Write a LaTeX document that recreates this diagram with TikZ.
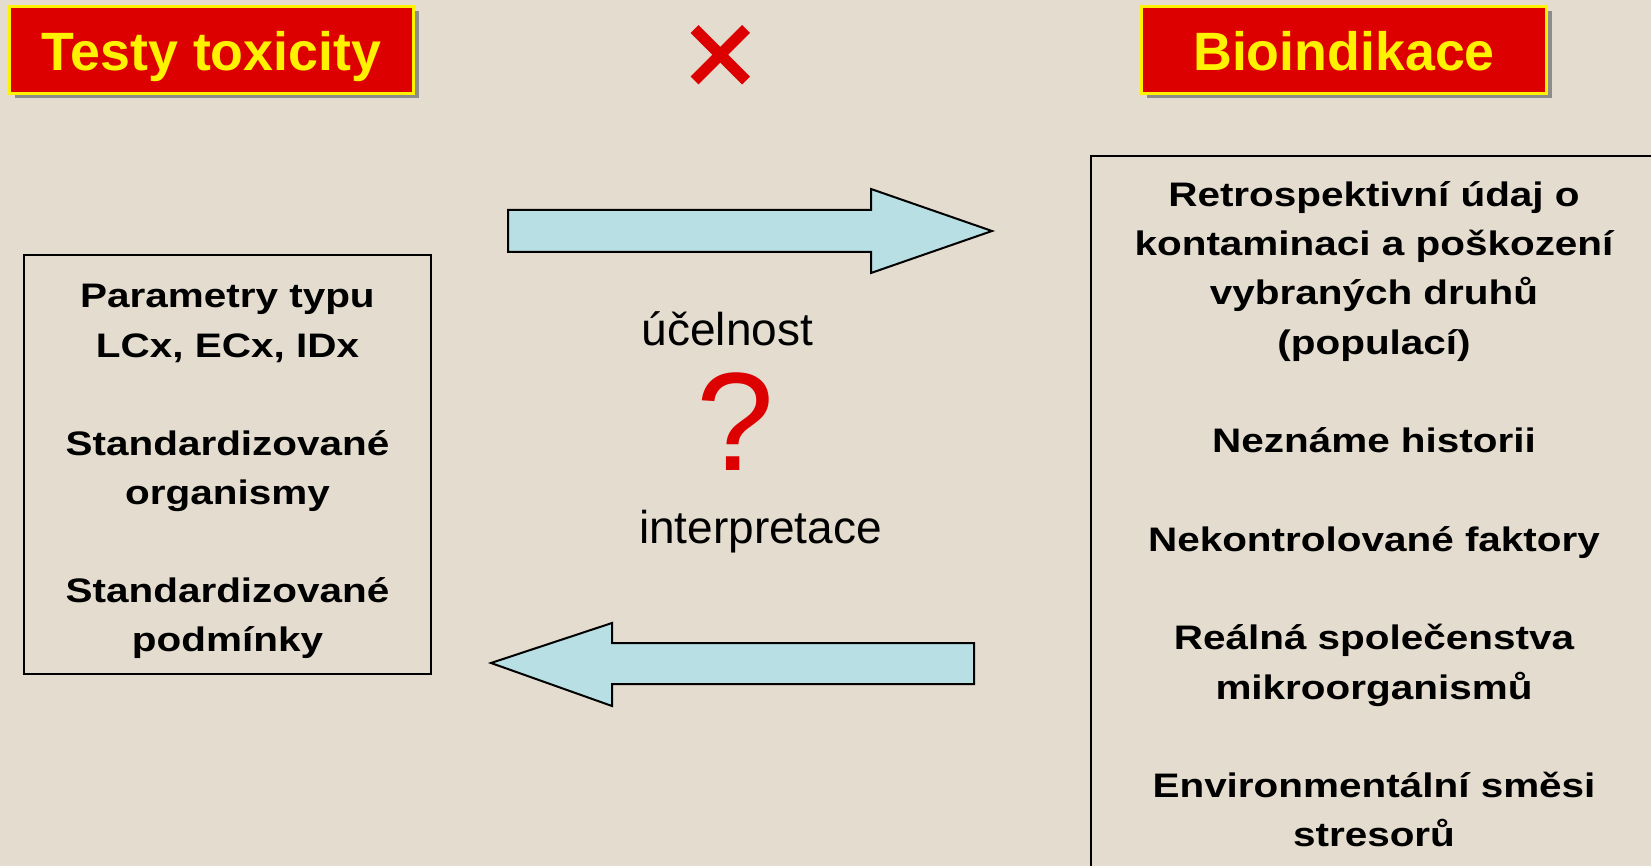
\documentclass[tikz,border=0pt]{standalone}
\usepackage{fontspec}
\setmainfont{Liberation Sans}
\newfontfamily\bodyfont[FakeStretch=1.19]{Liberation Sans}
\newfontfamily\titlefont[FakeStretch=0.995]{Liberation Sans}
\usetikzlibrary{shadows}
\definecolor{bg}{RGB}{227,220,207}
\definecolor{slidered}{RGB}{221,0,0}
\definecolor{arrowblue}{RGB}{184,224,228}
\definecolor{shadowgray}{RGB}{140,140,140}
\begin{document}
\begin{tikzpicture}[x=1pt,y=-1pt,
  titlebox/.style={rectangle, fill=slidered, draw=yellow, line width=3pt, inner sep=0,
    drop shadow={shadow xshift=5pt, shadow yshift=-5pt, fill=shadowgray, opacity=1}},
  titletext/.style={anchor=base, inner sep=0, text=yellow, font=\titlefont\bfseries\fontsize{54}{60}\selectfont},
  bodytext/.style={anchor=base, inner sep=0, font=\bodyfont\bfseries\fontsize{34}{40}\selectfont},
  midtext/.style={anchor=base, inner sep=0, font=\fontsize{46}{52}\selectfont},
  infobox/.style={rectangle, draw=black, line width=2pt, inner sep=0},
  bigarrow/.style={fill=arrowblue, draw=black, line width=2pt, line join=miter},
]
\useasboundingbox (0,0) rectangle (1651,866);
\fill[bg] (0,0) rectangle (1651,866);

% title boxes
\node[titlebox, minimum width=404pt, minimum height=87pt] (tbox) at (211.5,50) {};
\node[titletext] (ttext) at (211.5,71) {Testy toxicity};
\node[titlebox, minimum width=405pt, minimum height=87pt] (bbox) at (1344,50) {};
\node[titletext] (btext) at (1344,71) {Bioindikace};

% red cross
\draw[slidered, line width=11pt] (694.5,29) -- (746,80.5);
\draw[slidered, line width=11pt] (746,29) -- (694.5,80.5);

% left box
\node[infobox, minimum width=407pt, minimum height=419pt] (lbox) at (227.5,464.5) {};
\node[bodytext] (l1) at (227.5,308) {Parametry typu};
\node[bodytext] (l2) at (227.5,357) {LCx, ECx, IDx};
\node[bodytext] (l3) at (227.5,455) {Standardizované};
\node[bodytext] (l4) at (227.5,504) {organismy};
\node[bodytext] (l5) at (227.5,602) {Standardizované};
\node[bodytext] (l6) at (227.5,651) {podmínky};

% right box (runs past the edges)
\coordinate (rtr) at (1651,156);
\coordinate (rtl) at (1091,156);
\coordinate (rbl) at (1091,866);
\draw[black, line width=2.5pt] (rtr) -- (rtl) -- (rbl);
\node[bodytext] (r1) at (1374,206.5) {Retrospektivní údaj o};
\node[bodytext] (r2) at (1374,255.75) {kontaminaci a poškození};
\node[bodytext] (r3) at (1374,305) {vybraných druhů};
\node[bodytext] (r4) at (1374,354.25) {(populací)};
\node[bodytext] (r5) at (1374,452.75) {Neznáme historii};
\node[bodytext] (r6) at (1374,551.25) {Nekontrolované faktory};
\node[bodytext] (r7) at (1374,649.75) {Reálná společenstva};
\node[bodytext] (r8) at (1374,699) {mikroorganismů};
\node[bodytext] (r9) at (1374,797.5) {Environmentální směsi};
\node[bodytext] (r10) at (1374,846.75) {stresorů};

% arrows
\draw[bigarrow] (508,210) -- (871,210) -- (871,189) -- (992,231) -- (871,273) -- (871,252) -- (508,252) -- cycle;
\draw[bigarrow] (974,643) -- (612,643) -- (612,623) -- (491,663) -- (612,706) -- (612,684) -- (974,684) -- cycle;

% middle texts
\node[midtext] (m1) at (727.5,345) {účelnost};
\node[anchor=base, inner sep=0, text=slidered, font=\fontsize{140}{150}\selectfont] (q) at (735.5,470) {?};
\node[midtext] (m2) at (760.5,543) {interpretace};
\end{tikzpicture}
\end{document}
